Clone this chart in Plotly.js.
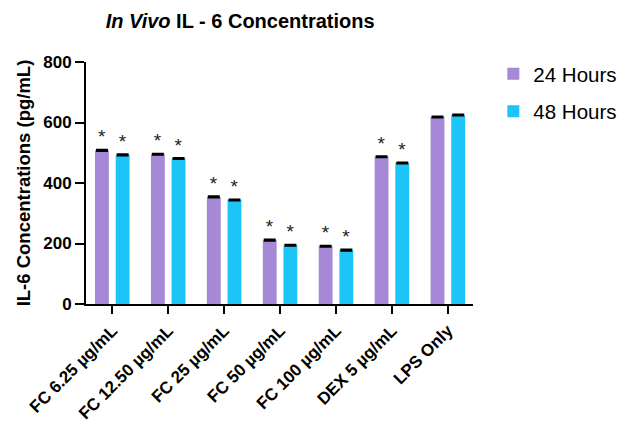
<!DOCTYPE html>
<html><head><meta charset="utf-8">
<script src="https://cdn.plot.ly/plotly-3.0.1.min.js"></script>
<style>body{margin:0;background:#fff}#c{width:619px;height:427px}</style>
</head><body><div id="c"></div>
<script>
var categories = ["FC 6.25 µg/mL","FC 12.50 µg/mL","FC 25 µg/mL","FC 50 µg/mL","FC 100 µg/mL","DEX 5 µg/mL","LPS Only"];
var hours24 = [508, 495, 354, 211, 191, 487, 618];
var hours48 = [493, 481, 344, 194, 178, 466, 625];
var err24 = [1, 1, 1, 1, 1, 1, 1];
var err48 = [1, 1, 1, 1, 1, 1, 1];
var sig24 = ["*","*","*","*","*","*",""];
var sig48 = ["*","*","*","*","*","*",""];
var yTicks = [0, 200, 400, 600, 800];

var F = "Arial, 'Liberation Sans', sans-serif";
function tr(name, y, e, s, color){
  return {type:"bar", name:name, x:categories, y:y, marker:{color:color, line:{width:0}},
    error_y:{type:"data", array:e, visible:true, color:"#000", thickness:2.5, width:6},
    text:s, textposition:"outside", cliponaxis:false, textfont:{family:F, size:19, color:"#222"},
    legendgroup:name, hoverinfo:"skip"};
}
var data = [tr("24 Hours", hours24, err24, sig24, "#A689D6"), tr("48 Hours", hours48, err48, sig48, "#1DC4F8")];
var layout = {
  width:619, height:427, paper_bgcolor:"#fff", plot_bgcolor:"#fff",
  margin:{l:86, r:146, t:62, b:123, autoexpand:false},
  font:{family:F, color:"#000"},
  title:{text:"<b><i>In Vivo</i> IL - 6 Concentrations</b>", font:{family:F, size:20, color:"#000"},
    x:0.388, xanchor:"center", xref:"container", y:0.95, yanchor:"middle", yref:"container"},
  barmode:"group", bargap:0.26, bargroupgap:0.33,
  xaxis:{range:[-0.47, 6.45], showline:true, linecolor:"#000", linewidth:2, ticks:"outside", ticklen:8, tickwidth:2, tickcolor:"#000",
    tickangle:-45, tickfont:{family:F, size:17, color:"#000", weight:"bold"}, showgrid:false, zeroline:false, fixedrange:true, automargin:false},
  yaxis:{range:[0,800], tickvals:yTicks, showline:true, linecolor:"#000", linewidth:2, ticks:"outside", ticklen:9, tickwidth:2, tickcolor:"#000",
    tickfont:{family:F, size:17, color:"#000", weight:"bold"}, showgrid:false, zeroline:false, automargin:false,
    title:{text:"<b>IL-6 Concentrations (pg/mL)</b>", font:{family:F, size:18.5, color:"#000"}, standoff:8}},
  showlegend:true,
  legend:{xref:"container", yref:"container", x:0.797, xanchor:"left", y:0.874, yanchor:"top", font:{family:F, size:20.5, color:"#000"},
    traceorder:"grouped", tracegroupgap:8, bgcolor:"rgba(0,0,0,0)"}
};
Plotly.newPlot("c", data, layout, {staticPlot:true, displayModeBar:false});
</script></body></html>
